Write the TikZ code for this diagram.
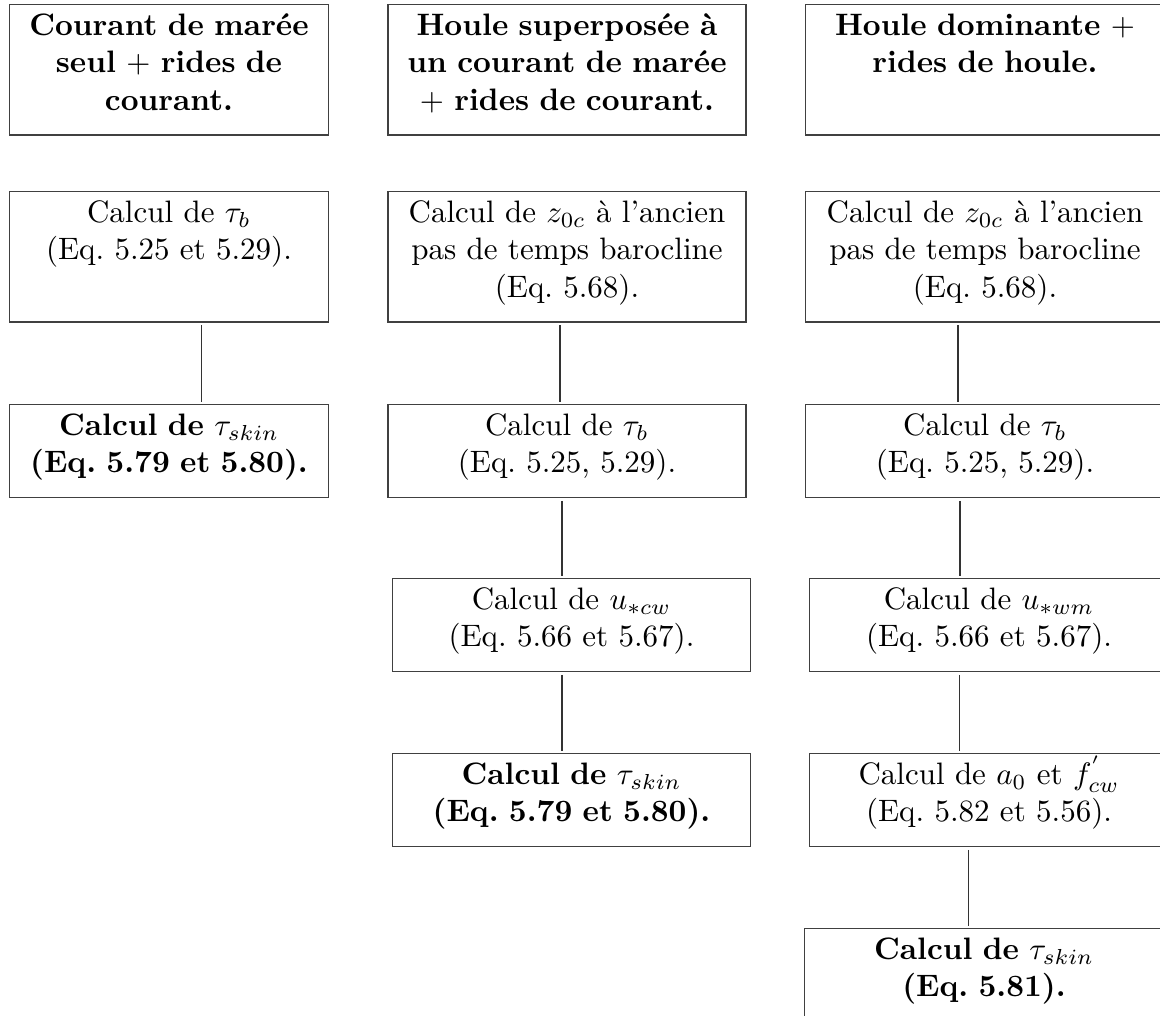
\documentclass[tikz,border=0pt]{standalone}
\usepackage{tikz}
\usetikzlibrary{positioning,calc}
\frenchspacing
\tikzset{
  etape/.style={draw=black!75, line width=0.45pt, anchor=north, align=center, inner xsep=0pt, inner ysep=3pt, text height=7pt},
  haute/.style={etape, text depth=29pt},
  basse/.style={etape, text depth=17pt},
  titre/.style={haute, font=\bfseries},
  fin/.style={basse, font=\bfseries},
  lien/.style={draw=black!80, line width=0.4pt, shorten <=0.8pt, shorten >=0.6pt}
}

\begin{document}
\begin{tikzpicture}[x=0.32258pt,y=-0.32258pt]
\useasboundingbox (0,0) rectangle (1160,1016);

% courant de maree seul
\node[titre, text width=103pt] (h1) at (169,4) {Courant de marée\\ seul $+$ rides de\\ courant.};
\node[haute, text width=103pt] (c1a) at (169,191) {Calcul de $\tau_b$\\ (Eq. 5.25 et 5.29).};
\node[fin, text width=103pt] (c1b) at (169,404) {Calcul de $\tau_{skin}$\\ (Eq. 5.79 et 5.80).};
\draw[lien] ([xshift=10.6pt]c1a.south) -- ([xshift=10.6pt]c1a.south |- c1b.north);

% houle + courant
\node[titre, text width=115.5pt] (h2) at (567,4) {Houle superposée à\\ un courant de marée\\ $+$ rides de courant.};
\node[haute, text width=115.5pt] (c2a) at (567,191) {Calcul de $z_{0c}$ à l'ancien\\ pas de temps barocline\\ (Eq. 5.68).};
\node[basse, text width=115.5pt] (c2b) at (567,404) {Calcul de $\tau_b$\\ (Eq. 5.25, 5.29).};
\node[basse, text width=115.5pt] (c2c) at (571.5,578) {Calcul de $u_{*cw}$\\ (Eq. 5.66 et 5.67).};
\node[fin, text width=115.5pt] (c2d) at (571.5,753) {Calcul de $\tau_{skin}$\\ (Eq. 5.79 et 5.80).};
\draw[lien] ([xshift=-2.3pt]c2a.south) -- ([xshift=-2.3pt]c2a.south |- c2b.north);
\draw[lien] ([xshift=-1.6pt]c2b.south) -- ([xshift=-1.6pt]c2b.south |- c2c.north);
\draw[lien] ([xshift=-3.1pt]c2c.south) -- ([xshift=-3.1pt]c2c.south |- c2d.north);

% houle dominante
\node[titre, text width=116pt] (h3) at (985,4) {Houle dominante $+$\\ rides de houle.};
\node[haute, text width=116pt] (c3a) at (985,191) {Calcul de $z_{0c}$ à l'ancien\\ pas de temps barocline\\ (Eq. 5.68).};
\node[basse, text width=116pt] (c3b) at (985,404) {Calcul de $\tau_b$\\ (Eq. 5.25, 5.29).};
\node[basse, text width=116pt] (c3c) at (989,578) {Calcul de $u_{*wm}$\\ (Eq. 5.66 et 5.67).};
\node[basse, text width=116pt] (c3d) at (989,753) {Calcul de $a_0$ et $f^{'}_{cw}$\\ (Eq. 5.82 et 5.56).};
\node[fin, text width=116pt] (c3e) at (984,928) {Calcul de $\tau_{skin}$\\ (Eq. 5.81).};
\draw[lien] ([xshift=-8.7pt]c3a.south) -- ([xshift=-8.7pt]c3a.south |- c3b.north);
\draw[lien] ([xshift=-8.1pt]c3b.south) -- ([xshift=-8.1pt]c3b.south |- c3c.north);
\draw[lien] ([xshift=-9.4pt]c3c.south) -- ([xshift=-9.4pt]c3c.south |- c3d.north);
\draw[lien] ([xshift=-6.5pt]c3d.south) -- ([xshift=-6.5pt]c3d.south |- c3e.north);
\end{tikzpicture}
\end{document}
